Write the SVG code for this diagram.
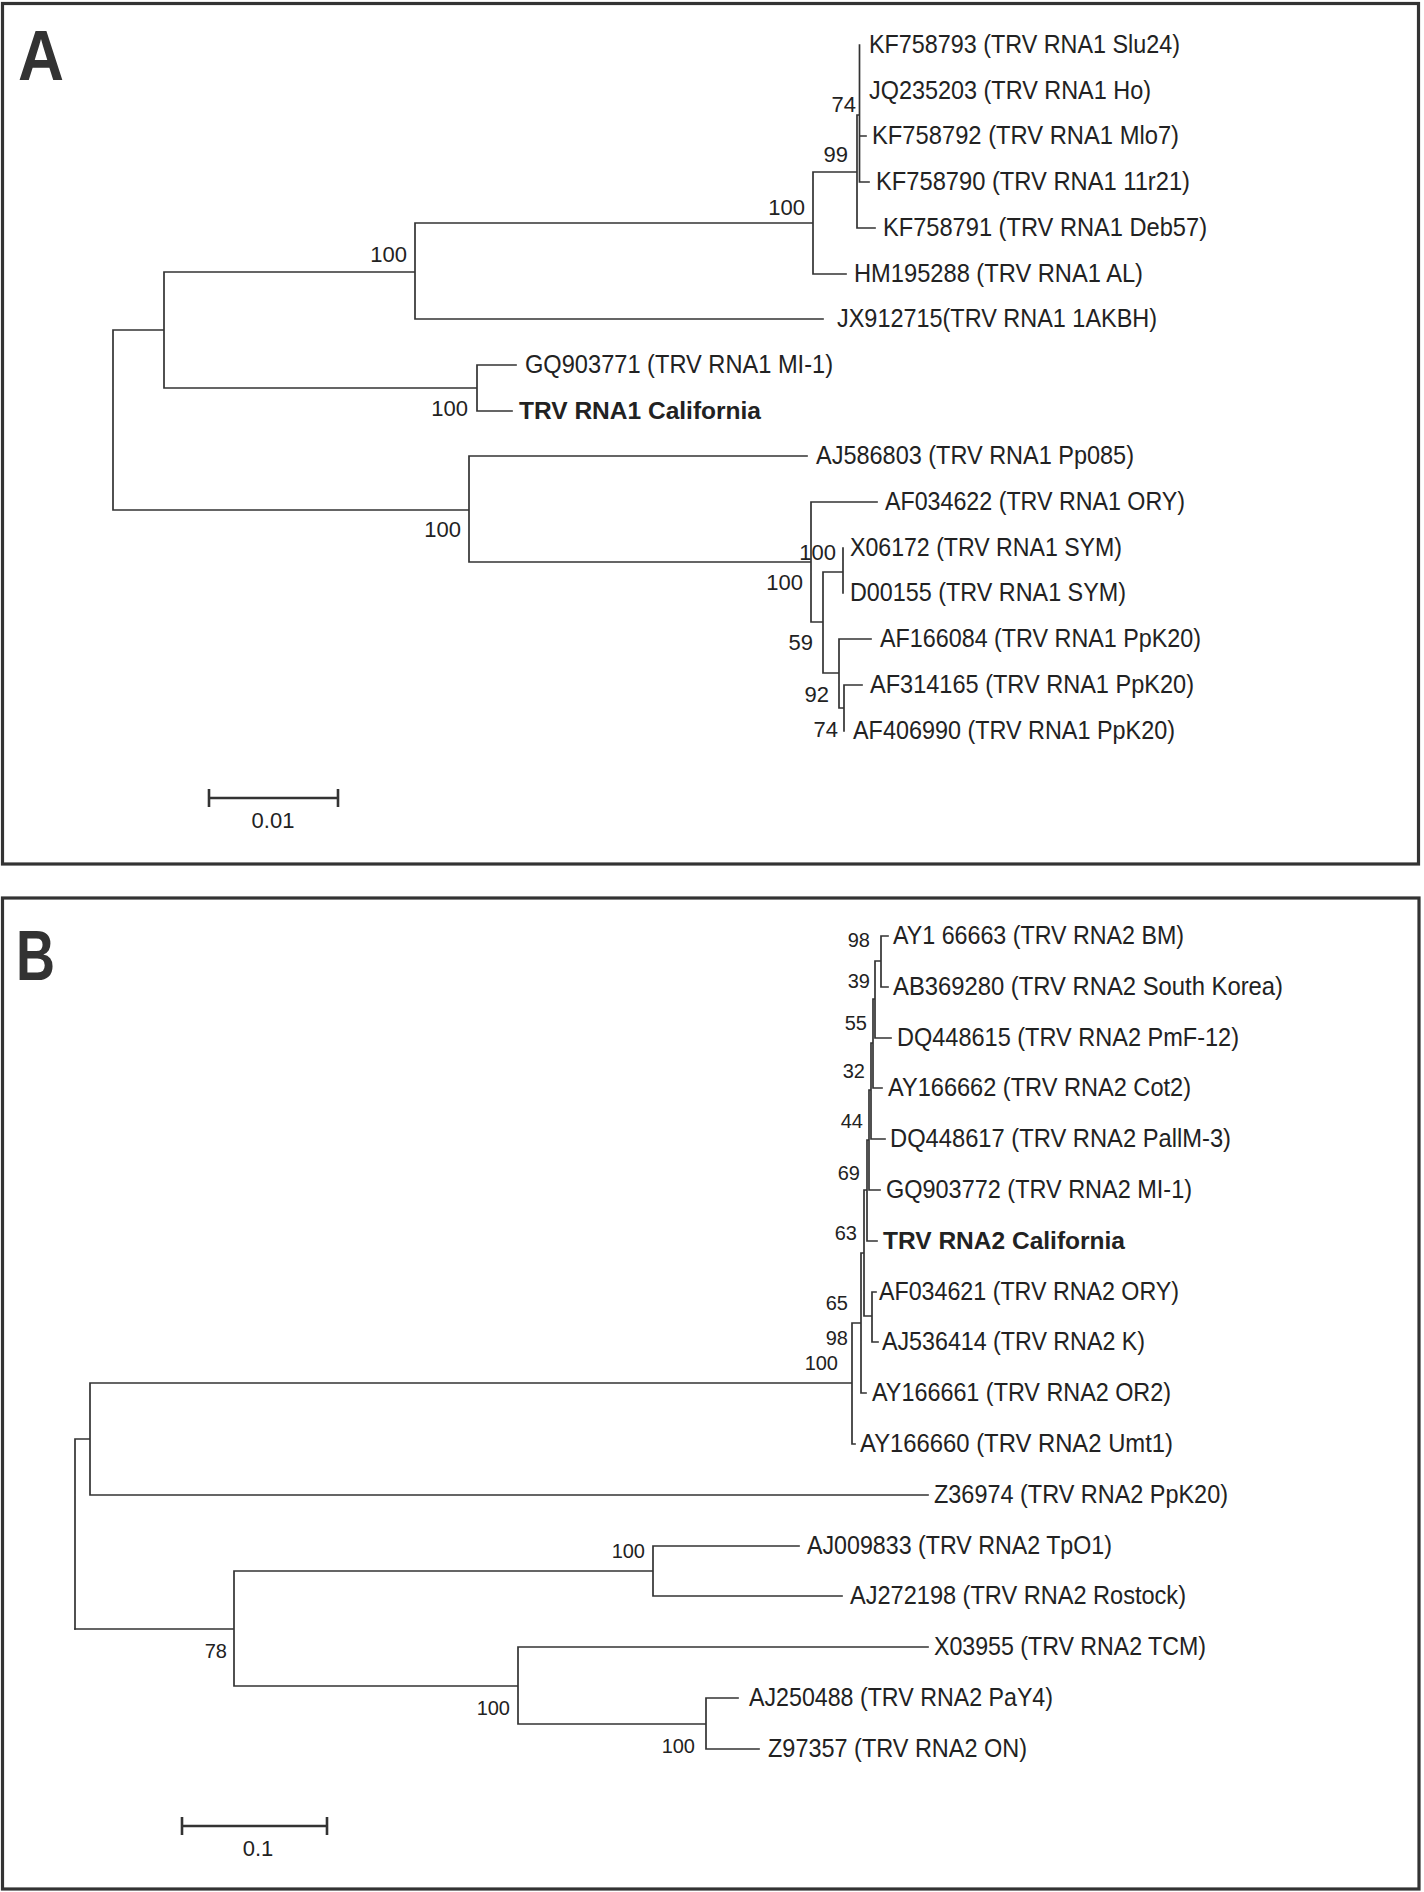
<svg xmlns="http://www.w3.org/2000/svg" width="1424" height="1892" viewBox="0 0 1424 1892">
<style>
.frame{fill:none;stroke:#333;stroke-width:3.2}
.br{fill:none;stroke:#333;stroke-width:1.7;stroke-linecap:square}
.sb{fill:none;stroke:#333;stroke-width:2.6}
text{font-family:"Liberation Sans",Arial,sans-serif;fill:#222}
.lf{font-size:25px}
.bd{font-size:24px;font-weight:bold}
.ba{font-size:22px;text-anchor:end}
.bb{font-size:20px;text-anchor:end}
.pl{font-size:70px;font-weight:bold;fill:#333}
.sc{font-size:22px;text-anchor:middle}
</style>
<rect width="1424" height="1892" fill="#fff"/>
<g id="panelA-frame"><rect class="frame" x="2.5" y="3.5" width="1416" height="860.5"/></g>
<g id="panelB-frame"><rect class="frame" x="2.5" y="898" width="1416.5" height="991"/></g>
<g id="label-A"><text class="pl" x="18" y="80" textLength="46" lengthAdjust="spacingAndGlyphs">A</text></g>
<g id="label-B"><text class="pl" x="16" y="980" textLength="39" lengthAdjust="spacingAndGlyphs">B</text></g>

<g id="connectors">
<path class="br" d="M113,330 V510 M113,330 H164 M164,272 V388 M164,272 H415 M415,223 V319 M415,223 H813 M813,172 V274 M813,172 H857 M857,115 V228 M857,115 H859.5 M859.5,45 V182 M859.5,136 H866 M859.5,182 H869 M857,228 H875 M813,274 H846 M415,319 H823 M164,388 H477 M477,365 V411 M477,365 H516 M477,411 H512 M113,510 H469 M469,456 V562 M469,456 H807 M469,562 H811 M811,502 V622 M811,502 H877 M811,622 H823 M823,572 V673 M823,572 H843 M843,548 V593 M823,673 H839 M839,639 V708 M839,639 H871 M839,708 H844 M844,685 V731 M844,685 H862"/>
<path class="br" d="M75,1439 V1629 M75,1439 H90 M90,1383 V1495 M90,1383 H852 M90,1495 H928 M852,1323 V1444 M852,1444 H855 M852,1323 H861 M861,1253 V1393 M861,1393 H866 M861,1253 H864 M864,1190 V1316 M864,1316 H872 M872,1292 V1342 M872,1292 H876 M872,1342 H878 M864,1190 H867 M867,1140 V1241 M867,1241 H877 M867,1140 H869 M869,1090 V1190 M869,1190 H880 M869,1090 H871 M871,1043 V1139 M871,1139 H885 M871,1043 H873 M873,999 V1088 M873,1088 H882 M873,999 H875 M875,961 V1038 M875,1038 H891 M875,961 H881 M881,936 V987 M881,936 H888 M881,987 H888"/>
<path class="br" d="M75,1629 H234 M234,1571 V1686 M234,1571 H653 M653,1546 V1596 M653,1546 H799 M653,1596 H842 M234,1686 H518 M518,1647 V1724 M518,1647 H928 M518,1724 H706 M706,1698 V1749 M706,1698 H738 M706,1749 H759"/>
<path class="sb" d="M209,798 H338 M209,789 V807 M338,789 V807"/>
<path class="sb" d="M182,1826 H327 M182,1817 V1835 M327,1817 V1835"/>
</g>

<g id="scale-A"><text class="sc" x="273" y="828">0.01</text></g>
<g id="scale-B"><text class="sc" x="258" y="1856">0.1</text></g>

<g id="leaves-A">
<g id="a1"><text class="lf" x="869" y="53" textLength="311" lengthAdjust="spacingAndGlyphs">KF758793 (TRV RNA1 Slu24)</text></g>
<g id="a2"><text class="lf" x="869" y="99" textLength="282" lengthAdjust="spacingAndGlyphs">JQ235203 (TRV RNA1 Ho)</text></g>
<g id="a3"><text class="lf" x="872" y="144" textLength="307" lengthAdjust="spacingAndGlyphs">KF758792 (TRV RNA1 Mlo7)</text></g>
<g id="a4"><text class="lf" x="876" y="190" textLength="314" lengthAdjust="spacingAndGlyphs">KF758790 (TRV RNA1 11r21)</text></g>
<g id="a5"><text class="lf" x="883" y="236" textLength="324" lengthAdjust="spacingAndGlyphs">KF758791 (TRV RNA1 Deb57)</text></g>
<g id="a6"><text class="lf" x="854" y="282" textLength="289" lengthAdjust="spacingAndGlyphs">HM195288 (TRV RNA1 AL)</text></g>
<g id="a7"><text class="lf" x="837" y="327" textLength="320" lengthAdjust="spacingAndGlyphs">JX912715(TRV RNA1 1AKBH)</text></g>
<g id="a8"><text class="lf" x="525" y="373" textLength="308" lengthAdjust="spacingAndGlyphs">GQ903771 (TRV RNA1 MI-1)</text></g>
<g id="a9"><text class="bd" x="519" y="419" textLength="242" lengthAdjust="spacingAndGlyphs">TRV RNA1 California</text></g>
<g id="a10"><text class="lf" x="816" y="464" textLength="318" lengthAdjust="spacingAndGlyphs">AJ586803 (TRV RNA1 Pp085)</text></g>
<g id="a11"><text class="lf" x="885" y="510" textLength="300" lengthAdjust="spacingAndGlyphs">AF034622 (TRV RNA1 ORY)</text></g>
<g id="a12"><text class="lf" x="850" y="556" textLength="272" lengthAdjust="spacingAndGlyphs">X06172 (TRV RNA1 SYM)</text></g>
<g id="a13"><text class="lf" x="850" y="601" textLength="276" lengthAdjust="spacingAndGlyphs">D00155 (TRV RNA1 SYM)</text></g>
<g id="a14"><text class="lf" x="880" y="647" textLength="321" lengthAdjust="spacingAndGlyphs">AF166084 (TRV RNA1 PpK20)</text></g>
<g id="a15"><text class="lf" x="870" y="693" textLength="324" lengthAdjust="spacingAndGlyphs">AF314165 (TRV RNA1 PpK20)</text></g>
<g id="a16"><text class="lf" x="853" y="739" textLength="322" lengthAdjust="spacingAndGlyphs">AF406990 (TRV RNA1 PpK20)</text></g>
</g>

<g id="bootstrap-A">
<text class="ba" x="407" y="262">100</text>
<text class="ba" x="468" y="416">100</text>
<text class="ba" x="805" y="215">100</text>
<text class="ba" x="848" y="162">99</text>
<text class="ba" x="856" y="112">74</text>
<text class="ba" x="461" y="537">100</text>
<text class="ba" x="803" y="590">100</text>
<text class="ba" x="836" y="560">100</text>
<text class="ba" x="813" y="650">59</text>
<text class="ba" x="829" y="702">92</text>
<text class="ba" x="838" y="737">74</text>
</g>

<g id="leaves-B">
<g id="b1"><text class="lf" x="893" y="944" textLength="291" lengthAdjust="spacingAndGlyphs">AY1 66663 (TRV RNA2 BM)</text></g>
<g id="b2"><text class="lf" x="893" y="995" textLength="390" lengthAdjust="spacingAndGlyphs">AB369280 (TRV RNA2 South Korea)</text></g>
<g id="b3"><text class="lf" x="897" y="1046" textLength="342" lengthAdjust="spacingAndGlyphs">DQ448615 (TRV RNA2 PmF-12)</text></g>
<g id="b4"><text class="lf" x="888" y="1096" textLength="303" lengthAdjust="spacingAndGlyphs">AY166662 (TRV RNA2 Cot2)</text></g>
<g id="b5"><text class="lf" x="890" y="1147" textLength="341" lengthAdjust="spacingAndGlyphs">DQ448617 (TRV RNA2 PallM-3)</text></g>
<g id="b6"><text class="lf" x="886" y="1198" textLength="306" lengthAdjust="spacingAndGlyphs">GQ903772 (TRV RNA2 MI-1)</text></g>
<g id="b7"><text class="bd" x="883" y="1249" textLength="242" lengthAdjust="spacingAndGlyphs">TRV RNA2 California</text></g>
<g id="b8"><text class="lf" x="879" y="1300" textLength="300" lengthAdjust="spacingAndGlyphs">AF034621 (TRV RNA2 ORY)</text></g>
<g id="b9"><text class="lf" x="882" y="1350" textLength="263" lengthAdjust="spacingAndGlyphs">AJ536414 (TRV RNA2 K)</text></g>
<g id="b10"><text class="lf" x="872" y="1401" textLength="299" lengthAdjust="spacingAndGlyphs">AY166661 (TRV RNA2 OR2)</text></g>
<g id="b11"><text class="lf" x="860" y="1452" textLength="313" lengthAdjust="spacingAndGlyphs">AY166660 (TRV RNA2 Umt1)</text></g>
<g id="b12"><text class="lf" x="934" y="1503" textLength="294" lengthAdjust="spacingAndGlyphs">Z36974 (TRV RNA2 PpK20)</text></g>
<g id="b13"><text class="lf" x="807" y="1554" textLength="305" lengthAdjust="spacingAndGlyphs">AJ009833 (TRV RNA2 TpO1)</text></g>
<g id="b14"><text class="lf" x="850" y="1604" textLength="336" lengthAdjust="spacingAndGlyphs">AJ272198 (TRV RNA2 Rostock)</text></g>
<g id="b15"><text class="lf" x="934" y="1655" textLength="272" lengthAdjust="spacingAndGlyphs">X03955 (TRV RNA2 TCM)</text></g>
<g id="b16"><text class="lf" x="749" y="1706" textLength="304" lengthAdjust="spacingAndGlyphs">AJ250488 (TRV RNA2 PaY4)</text></g>
<g id="b17"><text class="lf" x="768" y="1757" textLength="259" lengthAdjust="spacingAndGlyphs">Z97357 (TRV RNA2 ON)</text></g>
</g>

<g id="bootstrap-B">
<text class="bb" x="870" y="947">98</text>
<text class="bb" x="870" y="988">39</text>
<text class="bb" x="867" y="1030">55</text>
<text class="bb" x="865" y="1078">32</text>
<text class="bb" x="863" y="1128">44</text>
<text class="bb" x="860" y="1180">69</text>
<text class="bb" x="857" y="1240">63</text>
<text class="bb" x="848" y="1310">65</text>
<text class="bb" x="848" y="1345">98</text>
<text class="bb" x="838" y="1370">100</text>
<text class="bb" x="645" y="1558">100</text>
<text class="bb" x="227" y="1658">78</text>
<text class="bb" x="510" y="1715">100</text>
<text class="bb" x="695" y="1753">100</text>
</g>
</svg>
